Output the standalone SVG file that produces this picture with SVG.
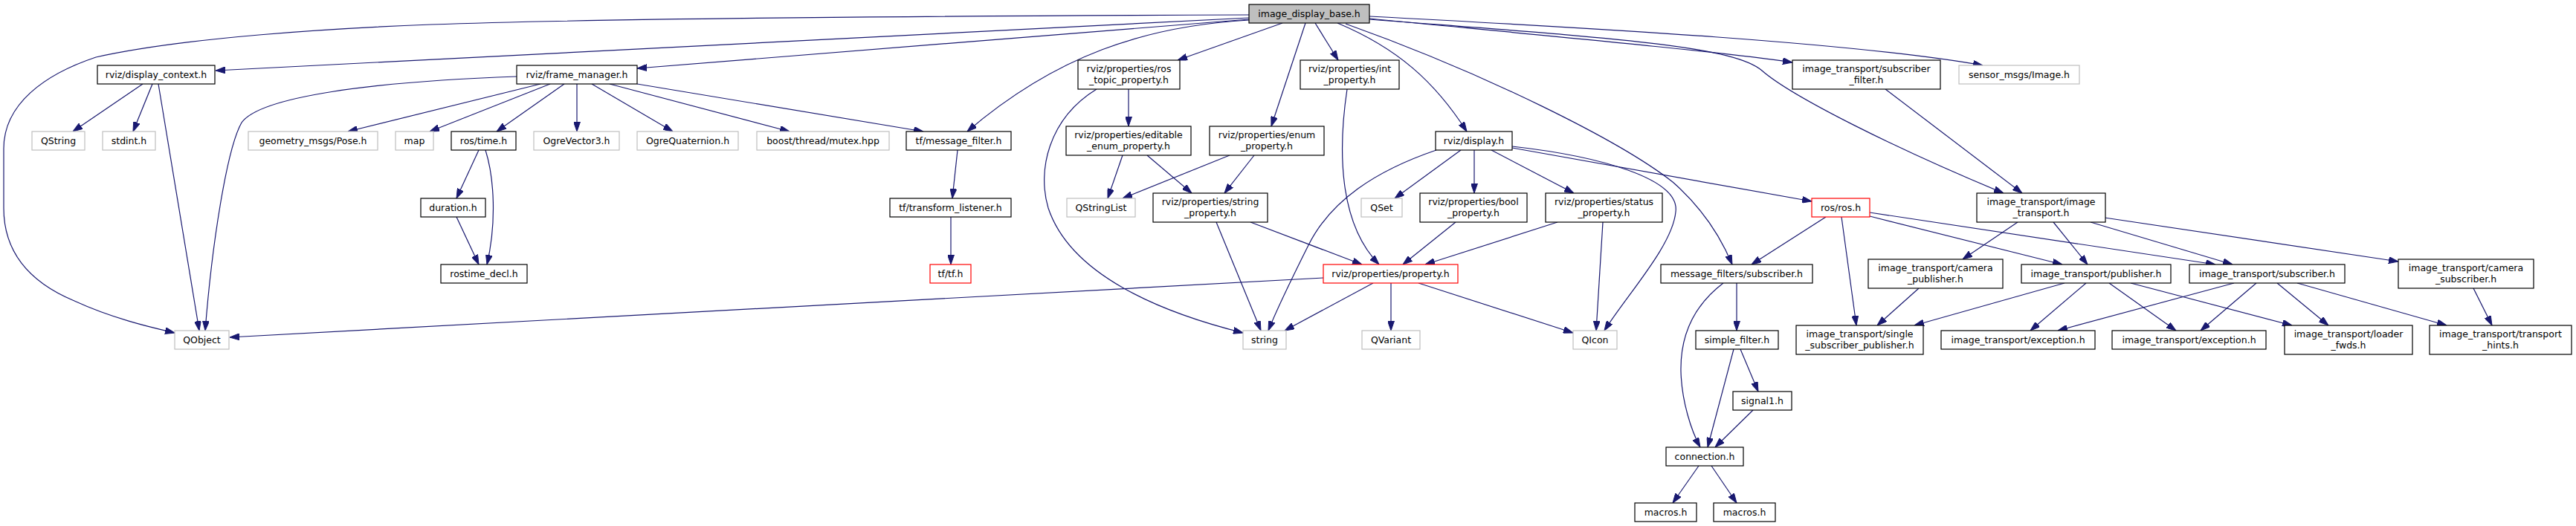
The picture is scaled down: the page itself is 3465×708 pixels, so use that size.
<svg xmlns="http://www.w3.org/2000/svg" width="3465" height="708" viewBox="0 0 3465 708">
<style>
.n rect{fill:#fff;stroke:#000;stroke-width:1.2}
.g rect{fill:#fff;stroke:#bfbfbf;stroke-width:1.2}
.r rect{fill:#fff;stroke:#ff0000;stroke-width:1.2}
.top rect{fill:#bfbfbf;stroke:#000;stroke-width:1.2}
text{font-family:"DejaVu Sans","Liberation Sans",sans-serif;font-size:12.5px;fill:#000;text-anchor:middle}
#edges path{fill:none;stroke:#191970;stroke-width:1.2;marker-end:url(#ah)}
</style>
<defs>
<marker id="ah" viewBox="0 0 13 9" refX="13" refY="4.5" markerWidth="13" markerHeight="9" markerUnits="userSpaceOnUse" orient="auto">
<path d="M0,0 L13,4.5 L0,9 z" fill="#191970" stroke="#191970" stroke-width="1"/>
</marker>
</defs>
<rect width="3465" height="708" fill="#fff"/>
<g id="edges">
<path d="M1680,20 C1300,21 800,25 580,33 C450,38 250,50 129,77 C60,100 5,140 5,200 L5,280 C5,340 40,380 100,405 C150,428 200,440 235,448"/>
<path d="M1680,24 L290,95"/>
<path d="M1680,26 L857,92"/>
<path d="M1680,27 C1540,35 1420,75 1301,177"/>
<path d="M1725,31 L1584,81"/>
<path d="M1756,31 L1710,170"/>
<path d="M1769,31 L1800,81"/>
<path d="M1799,31 C1880,65 1930,110 1973,177"/>
<path d="M1810,32 C2000,100 2180,190 2250,245 C2290,280 2315,320 2330,356"/>
<path d="M1842,22 C2150,38 2500,58 2667,88"/>
<path d="M1842,25 C2100,50 2300,68 2411,84"/>
<path d="M1842,26 C2150,50 2330,60 2370,95 C2410,130 2550,200 2695,260"/>
<path d="M192,113 L98,177"/>
<path d="M205,113 L179,177"/>
<path d="M213,113 L268,445"/>
<path d="M695,103 C500,110 350,130 325,165 C305,200 285,330 276,445"/>
<path d="M727,113 L468,177"/>
<path d="M740,113 L578,177"/>
<path d="M759,113 L668,177"/>
<path d="M776,113 L776,177"/>
<path d="M796,113 L905,177"/>
<path d="M820,113 L1062,177"/>
<path d="M857,113 L1242,177"/>
<path d="M644,202 L614,267"/>
<path d="M653,202 C665,240 668,300 655,356"/>
<path d="M614,292 L644,356"/>
<path d="M1288,202 L1281,267"/>
<path d="M1279,292 L1279,356"/>
<path d="M1518,120 L1518,170"/>
<path d="M1475,120 C1410,160 1395,230 1410,280 C1440,370 1560,420 1672,448"/>
<path d="M1510,209 L1490,267"/>
<path d="M1543,209 L1603,260"/>
<path d="M1654,209 L1510,267"/>
<path d="M1687,209 L1647,260"/>
<path d="M1636,299 L1696,445"/>
<path d="M1682,299 L1832,356"/>
<path d="M1812,120 C1800,200 1800,300 1855,356"/>
<path d="M1932,202 C1850,230 1790,270 1760,330 C1740,370 1720,410 1706,445"/>
<path d="M1965,202 L1876,267"/>
<path d="M1983,202 L1983,260"/>
<path d="M2006,202 L2117,260"/>
<path d="M2034,199 L2437,271"/>
<path d="M2034,197 C2150,210 2260,240 2254,285 C2250,330 2190,395 2158,445"/>
<path d="M1958,299 L1887,356"/>
<path d="M2095,299 L1917,356"/>
<path d="M2156,299 L2147,445"/>
<path d="M1780,374 L309,454"/>
<path d="M1847,381 L1728,445"/>
<path d="M1871,381 L1871,445"/>
<path d="M1908,381 L2116,448"/>
<path d="M2536,120 L2720,260"/>
<path d="M2456,292 L2356,356"/>
<path d="M2477,292 L2497,438"/>
<path d="M2515,291 L2774,356"/>
<path d="M2515,286 L2980,356"/>
<path d="M2714,299 L2640,349"/>
<path d="M2762,299 L2808,356"/>
<path d="M2812,299 L3003,356"/>
<path d="M2831,293 L3226,352"/>
<path d="M2336,381 L2336,445"/>
<path d="M2318,381 C2280,410 2260,450 2261,500 C2262,540 2275,580 2287,602"/>
<path d="M2332,470 L2297,602"/>
<path d="M2341,470 L2365,527"/>
<path d="M2358,552 L2307,602"/>
<path d="M2285,627 L2250,677"/>
<path d="M2302,627 L2336,677"/>
<path d="M2581,388 L2525,438"/>
<path d="M2777,381 L2575,438"/>
<path d="M2806,381 L2731,445"/>
<path d="M2837,381 L2927,445"/>
<path d="M2866,381 L3083,438"/>
<path d="M3005,381 L2768,445"/>
<path d="M3035,381 L2960,445"/>
<path d="M3063,381 L3132,438"/>
<path d="M3090,381 L3291,438"/>
<path d="M3327,388 L3352,438"/>
</g>
<g id="n1" class="top"><rect x="1680" y="6" width="162" height="25"/><text x="1761" y="22.5">image_display_base.h</text></g>
<g id="n2" class="n"><rect x="131" y="88" width="158" height="25"/><text x="210" y="104.5">rviz/display_context.h</text></g>
<g id="n3" class="n"><rect x="695" y="88" width="162" height="25"/><text x="776" y="104.5">rviz/frame_manager.h</text></g>
<g id="n4" class="n"><rect x="1450" y="81" width="137" height="39"/><text x="1518.5" y="97">rviz/properties/ros</text><text x="1518.5" y="111.5">_topic_property.h</text></g>
<g id="n5" class="n"><rect x="1749" y="81" width="133" height="39"/><text x="1815.5" y="97">rviz/properties/int</text><text x="1815.5" y="111.5">_property.h</text></g>
<g id="n6" class="n"><rect x="2411" y="81" width="199" height="39"/><text x="2510.5" y="97">image_transport/subscriber</text><text x="2510.5" y="111.5">_filter.h</text></g>
<g id="n7" class="g"><rect x="2635" y="88" width="162" height="25"/><text x="2716" y="104.5">sensor_msgs/Image.h</text></g>
<g id="n8" class="g"><rect x="43" y="177" width="71" height="25"/><text x="78.5" y="193.5">QString</text></g>
<g id="n9" class="g"><rect x="138" y="177" width="71" height="25"/><text x="173.5" y="193.5">stdint.h</text></g>
<g id="n10" class="g"><rect x="334" y="177" width="174" height="25"/><text x="421" y="193.5">geometry_msgs/Pose.h</text></g>
<g id="n11" class="g"><rect x="532" y="177" width="51" height="25"/><text x="557.5" y="193.5">map</text></g>
<g id="n12" class="n"><rect x="607" y="177" width="87" height="25"/><text x="650.5" y="193.5">ros/time.h</text></g>
<g id="n13" class="g"><rect x="718" y="177" width="115" height="25"/><text x="775.5" y="193.5">OgreVector3.h</text></g>
<g id="n14" class="g"><rect x="857" y="177" width="136" height="25"/><text x="925" y="193.5">OgreQuaternion.h</text></g>
<g id="n15" class="g"><rect x="1018" y="177" width="178" height="25"/><text x="1107" y="193.5">boost/thread/mutex.hpp</text></g>
<g id="n16" class="n"><rect x="1219" y="177" width="141" height="25"/><text x="1289.5" y="193.5">tf/message_filter.h</text></g>
<g id="n17" class="n"><rect x="1434" y="170" width="168" height="39"/><text x="1518" y="186">rviz/properties/editable</text><text x="1518" y="200.5">_enum_property.h</text></g>
<g id="n18" class="n"><rect x="1627" y="170" width="154" height="39"/><text x="1704" y="186">rviz/properties/enum</text><text x="1704" y="200.5">_property.h</text></g>
<g id="n19" class="n"><rect x="1931" y="177" width="103" height="25"/><text x="1982.5" y="193.5">rviz/display.h</text></g>
<g id="n20" class="n"><rect x="566" y="267" width="87" height="25"/><text x="609.5" y="283.5">duration.h</text></g>
<g id="n21" class="n"><rect x="1197" y="267" width="163" height="25"/><text x="1278.5" y="283.5">tf/transform_listener.h</text></g>
<g id="n22" class="g"><rect x="1435" y="267" width="92" height="25"/><text x="1481" y="283.5">QStringList</text></g>
<g id="n23" class="n"><rect x="1551" y="260" width="154" height="39"/><text x="1628" y="276">rviz/properties/string</text><text x="1628" y="290.5">_property.h</text></g>
<g id="n24" class="g"><rect x="1831" y="267" width="55" height="25"/><text x="1858.5" y="283.5">QSet</text></g>
<g id="n25" class="n"><rect x="1910" y="260" width="144" height="39"/><text x="1982" y="276">rviz/properties/bool</text><text x="1982" y="290.5">_property.h</text></g>
<g id="n26" class="n"><rect x="2079" y="260" width="157" height="39"/><text x="2157.5" y="276">rviz/properties/status</text><text x="2157.5" y="290.5">_property.h</text></g>
<g id="n27" class="r"><rect x="2437" y="267" width="78" height="25"/><text x="2476" y="283.5">ros/ros.h</text></g>
<g id="n28" class="n"><rect x="2659" y="260" width="173" height="39"/><text x="2745.5" y="276">image_transport/image</text><text x="2745.5" y="290.5">_transport.h</text></g>
<g id="n29" class="n"><rect x="593" y="356" width="116" height="25"/><text x="651" y="372.5">rostime_decl.h</text></g>
<g id="n30" class="r"><rect x="1251" y="356" width="55" height="25"/><text x="1278.5" y="372.5">tf/tf.h</text></g>
<g id="n31" class="r"><rect x="1780" y="356" width="181" height="25"/><text x="1870.5" y="372.5">rviz/properties/property.h</text></g>
<g id="n32" class="n"><rect x="2234" y="356" width="204" height="25"/><text x="2336" y="372.5">message_filters/subscriber.h</text></g>
<g id="n33" class="n"><rect x="2513" y="349" width="181" height="39"/><text x="2603.5" y="365">image_transport/camera</text><text x="2603.5" y="379.5">_publisher.h</text></g>
<g id="n34" class="n"><rect x="2719" y="356" width="201" height="25"/><text x="2819.5" y="372.5">image_transport/publisher.h</text></g>
<g id="n35" class="n"><rect x="2945" y="356" width="209" height="25"/><text x="3049.5" y="372.5">image_transport/subscriber.h</text></g>
<g id="n36" class="n"><rect x="3226" y="349" width="182" height="39"/><text x="3317" y="365">image_transport/camera</text><text x="3317" y="379.5">_subscriber.h</text></g>
<g id="n37" class="g"><rect x="235" y="445" width="73" height="25"/><text x="271.5" y="461.5">QObject</text></g>
<g id="n38" class="g"><rect x="1672" y="445" width="58" height="25"/><text x="1701" y="461.5">string</text></g>
<g id="n39" class="g"><rect x="1832" y="445" width="78" height="25"/><text x="1871" y="461.5">QVariant</text></g>
<g id="n40" class="g"><rect x="2116" y="445" width="59" height="25"/><text x="2145.5" y="461.5">QIcon</text></g>
<g id="n41" class="n"><rect x="2281" y="445" width="111" height="25"/><text x="2336.5" y="461.5">simple_filter.h</text></g>
<g id="n42" class="n"><rect x="2416" y="438" width="171" height="39"/><text x="2501.5" y="454">image_transport/single</text><text x="2501.5" y="468.5">_subscriber_publisher.h</text></g>
<g id="n43" class="n"><rect x="2611" y="445" width="207" height="25"/><text x="2714.5" y="461.5">image_transport/exception.h</text></g>
<g id="n44" class="n"><rect x="2841" y="445" width="207" height="25"/><text x="2944.5" y="461.5">image_transport/exception.h</text></g>
<g id="n45" class="n"><rect x="3073" y="438" width="172" height="39"/><text x="3159" y="454">image_transport/loader</text><text x="3159" y="468.5">_fwds.h</text></g>
<g id="n46" class="n"><rect x="3268" y="438" width="191" height="39"/><text x="3363.5" y="454">image_transport/transport</text><text x="3363.5" y="468.5">_hints.h</text></g>
<g id="n47" class="n"><rect x="2331" y="527" width="79" height="25"/><text x="2370.5" y="543.5">signal1.h</text></g>
<g id="n48" class="n"><rect x="2241" y="602" width="104" height="25"/><text x="2293" y="618.5">connection.h</text></g>
<g id="n49" class="n"><rect x="2199" y="677" width="83" height="25"/><text x="2240.5" y="693.5">macros.h</text></g>
<g id="n50" class="n"><rect x="2305" y="677" width="83" height="25"/><text x="2346.5" y="693.5">macros.h</text></g>
</svg>
